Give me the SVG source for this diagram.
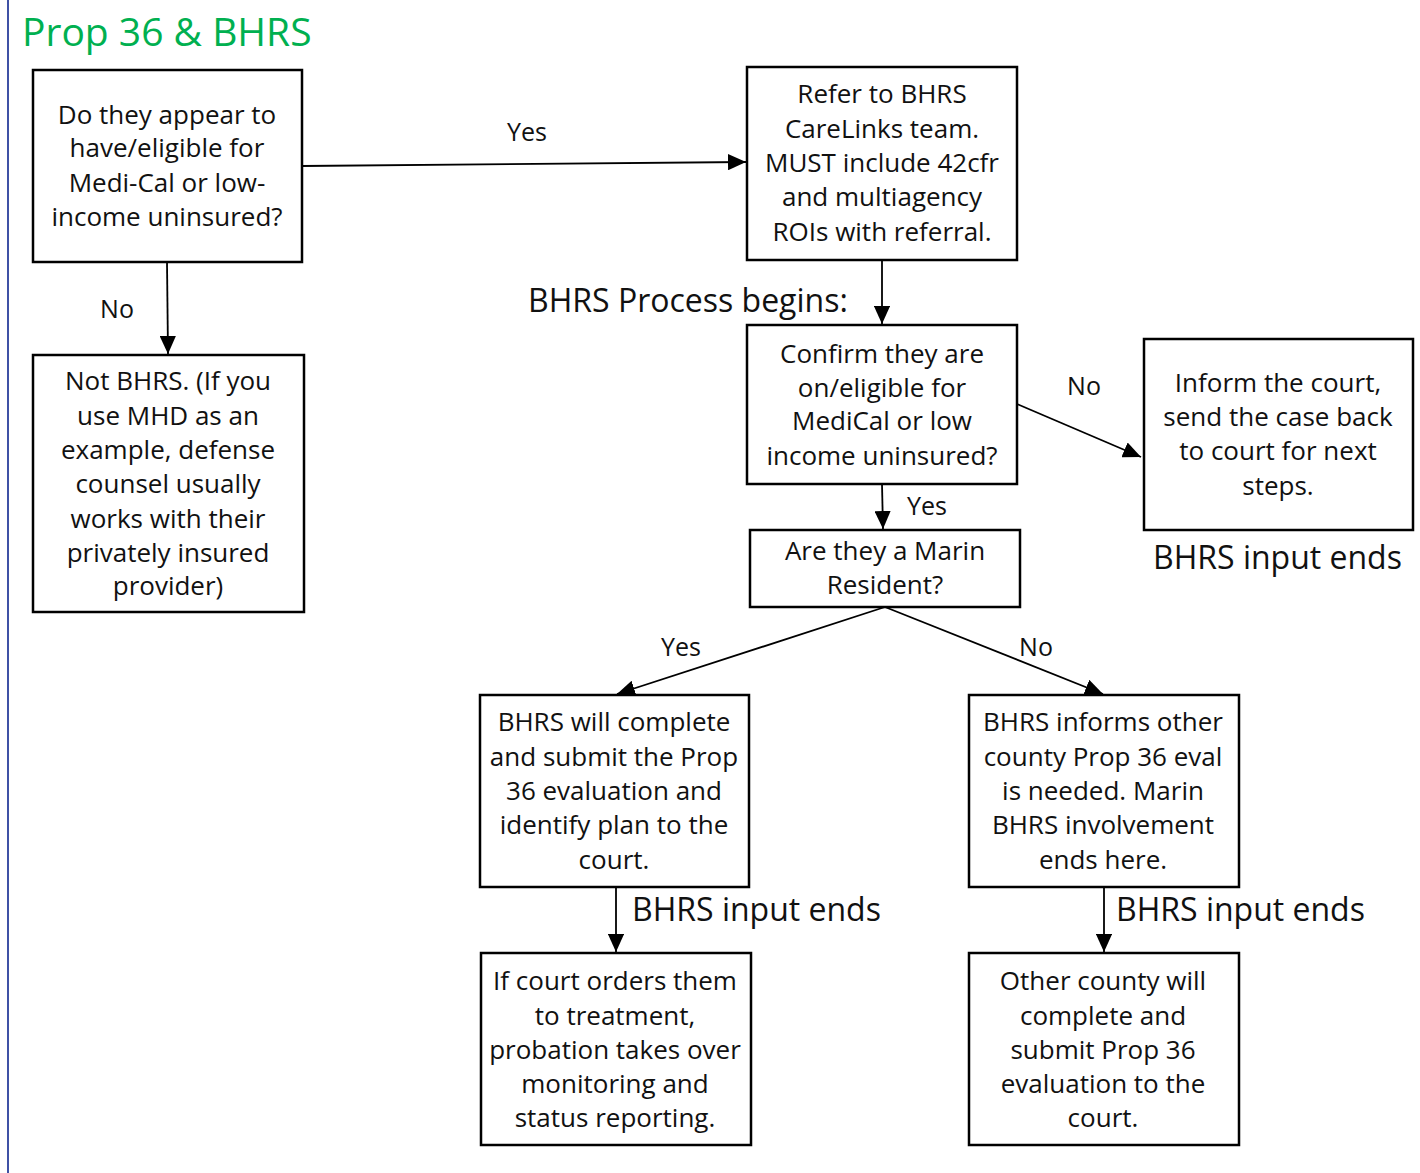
<svg xmlns="http://www.w3.org/2000/svg" width="1420" height="1173" viewBox="0 0 1420 1173">
<defs>
<marker id="ah" viewBox="0 0 10 10" refX="10" refY="5" markerWidth="10" markerHeight="9" markerUnits="strokeWidth" orient="auto" preserveAspectRatio="none">
<path d="M0,0 L10,5 L0,10 Z" fill="#000"/>
</marker>
<style>
.box{fill:#fff;stroke:#000;stroke-width:2.5}
.t{font-family:"Open Sans","Liberation Sans",sans-serif;font-size:26px;fill:#111;text-anchor:middle;dominant-baseline:central}
.lbl{font-family:"Open Sans","Liberation Sans",sans-serif;font-size:25px;fill:#111;text-anchor:middle;dominant-baseline:central}
.big{font-family:"Open Sans","Liberation Sans",sans-serif;font-size:32px;fill:#111;dominant-baseline:central}
.c{stroke:#000;stroke-width:1.8;fill:none;marker-end:url(#ah)}
</style>
</defs>
<rect width="1420" height="1173" fill="#fff"/>
<line x1="8" y1="0" x2="8" y2="1173" stroke="#3f51a5" stroke-width="2"/>
<text x="22" y="30" font-family="'Open Sans','Liberation Sans',sans-serif" font-size="39" fill="#00b050" dominant-baseline="central">Prop 36 &amp; BHRS</text>

<g id="connectors">
<line class="c" x1="302" y1="166" x2="746" y2="162"/>
<line class="c" x1="167" y1="262" x2="168" y2="354"/>
<line class="c" x1="882" y1="260" x2="882" y2="324"/>
<line class="c" x1="1017" y1="404" x2="1141" y2="457"/>
<line class="c" x1="882" y1="484" x2="883" y2="529"/>
<line class="c" x1="885" y1="607" x2="617" y2="694"/>
<line class="c" x1="885" y1="607" x2="1103" y2="694"/>
<line class="c" x1="616" y1="887" x2="616" y2="952"/>
<line class="c" x1="1104" y1="887" x2="1104" y2="952"/>
<text class="lbl" x="527" y="131">Yes</text>
<text class="lbl" x="117" y="308">No</text>
<text class="lbl" x="1084" y="385">No</text>
<text class="lbl" x="927" y="505">Yes</text>
<text class="lbl" x="681" y="646">Yes</text>
<text class="lbl" x="1036" y="646">No</text>
</g>

<text class="big" x="528" y="299">BHRS Process begins:</text>
<text class="big" x="1153" y="556">BHRS input ends</text>
<text class="big" x="632" y="908">BHRS input ends</text>
<text class="big" x="1116" y="908">BHRS input ends</text>

<g id="nodeA">
<rect class="box" x="33" y="70" width="269" height="192"/>
<text class="t" x="167" y="114">Do they appear to</text>
<text class="t" x="167" y="147">have/eligible for</text>
<text class="t" x="167" y="182">Medi-Cal or low-</text>
<text class="t" x="167" y="216">income uninsured?</text>
</g>
<g id="nodeB">
<rect class="box" x="747" y="67" width="270" height="193"/>
<text class="t" x="882" y="93">Refer to BHRS</text>
<text class="t" x="882" y="128">CareLinks team.</text>
<text class="t" x="882" y="162">MUST include 42cfr</text>
<text class="t" x="882" y="196">and multiagency</text>
<text class="t" x="882" y="231">ROIs with referral.</text>
</g>
<g id="nodeC">
<rect class="box" x="33" y="355" width="271" height="257"/>
<text class="t" x="168" y="380">Not BHRS. (If you</text>
<text class="t" x="168" y="415">use MHD as an</text>
<text class="t" x="168" y="449">example, defense</text>
<text class="t" x="168" y="483">counsel usually</text>
<text class="t" x="168" y="518">works with their</text>
<text class="t" x="168" y="552">privately insured</text>
<text class="t" x="168" y="585">provider)</text>
</g>
<g id="nodeD">
<rect class="box" x="747" y="325" width="270" height="159"/>
<text class="t" x="882" y="353">Confirm they are</text>
<text class="t" x="882" y="387">on/eligible for</text>
<text class="t" x="882" y="420">MediCal or low</text>
<text class="t" x="882" y="455">income uninsured?</text>
</g>
<g id="nodeE">
<rect class="box" x="1144" y="339" width="269" height="191"/>
<text class="t" x="1278" y="382">Inform the court,</text>
<text class="t" x="1278" y="416">send the case back</text>
<text class="t" x="1278" y="450">to court for next</text>
<text class="t" x="1278" y="485">steps.</text>
</g>
<g id="nodeF">
<rect class="box" x="750" y="530" width="270" height="77"/>
<text class="t" x="885" y="550">Are they a Marin</text>
<text class="t" x="885" y="584">Resident?</text>
</g>
<g id="nodeG">
<rect class="box" x="480" y="695" width="269" height="192"/>
<text class="t" x="614" y="721">BHRS will complete</text>
<text class="t" x="614" y="756">and submit the Prop</text>
<text class="t" x="614" y="790">36 evaluation and</text>
<text class="t" x="614" y="824">identify plan to the</text>
<text class="t" x="614" y="859">court.</text>
</g>
<g id="nodeH">
<rect class="box" x="969" y="695" width="270" height="192"/>
<text class="t" x="1103" y="721">BHRS informs other</text>
<text class="t" x="1103" y="756">county Prop 36 eval</text>
<text class="t" x="1103" y="790">is needed. Marin</text>
<text class="t" x="1103" y="824">BHRS involvement</text>
<text class="t" x="1103" y="859">ends here.</text>
</g>
<g id="nodeI">
<rect class="box" x="481" y="953" width="270" height="192"/>
<text class="t" x="615" y="980">If court orders them</text>
<text class="t" x="615" y="1015">to treatment,</text>
<text class="t" x="615" y="1049">probation takes over</text>
<text class="t" x="615" y="1083">monitoring and</text>
<text class="t" x="615" y="1117">status reporting.</text>
</g>
<g id="nodeJ">
<rect class="box" x="969" y="953" width="270" height="192"/>
<text class="t" x="1103" y="980">Other county will</text>
<text class="t" x="1103" y="1015">complete and</text>
<text class="t" x="1103" y="1049">submit Prop 36</text>
<text class="t" x="1103" y="1083">evaluation to the</text>
<text class="t" x="1103" y="1117">court.</text>
</g>
</svg>
